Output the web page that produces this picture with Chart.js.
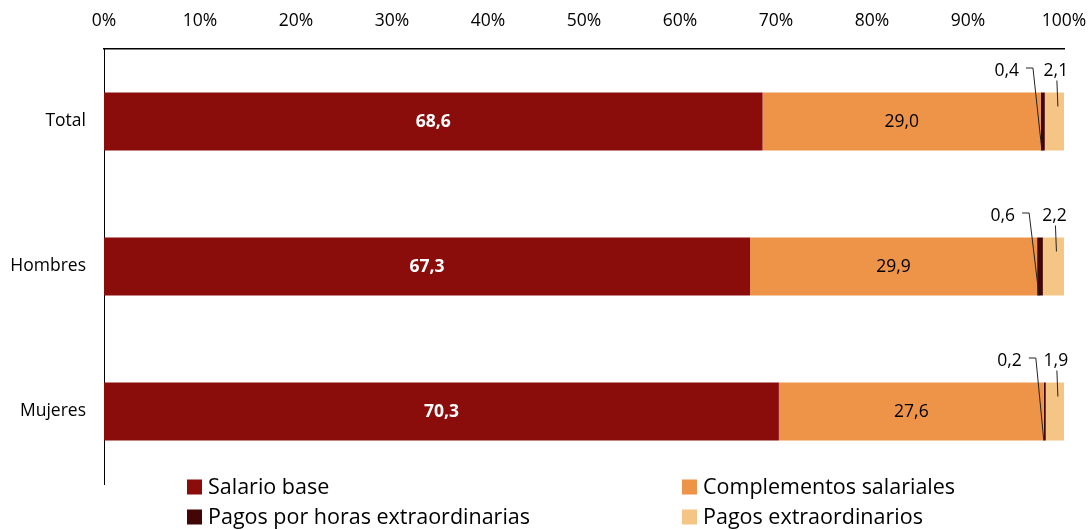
<!DOCTYPE html>
<html>
<head>
<meta charset="utf-8">
<script src="https://cdn.jsdelivr.net/npm/chart.js@4/dist/chart.umd.min.js"></script>
<style>
  html, body { margin: 0; padding: 0; background: #ffffff; }
  #wrap { width: 1088px; height: 530px; position: relative; }
</style>
</head>
<body>
<div id="wrap"><canvas id="c" width="1088" height="530"></canvas></div>
<script>
const categories = ['Total', 'Hombres', 'Mujeres'];
const seriesNames = ['Salario base', 'Complementos salariales', 'Pagos por horas extraordinarias', 'Pagos extraordinarios'];
const salarioBase = [68.6, 67.3, 70.3];
const complementos = [29.0, 29.9, 27.6];
const horasExtra = [0.4, 0.6, 0.2];
const pagosExtra = [2.1, 2.2, 1.9];
const xTicks = [0, 10, 20, 30, 40, 50, 60, 70, 80, 90, 100];

const colors = ['#8B0D0B', '#EE9449', '#430606', '#F5C585'];
const FONT = '"Open Sans", "DejaVu Sans", sans-serif';

function fmt(v) { return v.toFixed(1).replace('.', ','); }

const labelPlugin = {
  id: 'labels',
  afterDatasetsDraw(chart) {
    const ctx = chart.ctx;
    ctx.save();
    ctx.textBaseline = 'middle';
    chart.data.datasets.forEach((ds, di) => {
      const meta = chart.getDatasetMeta(di);
      meta.data.forEach((bar, i) => {
        const p = bar.getProps(['x', 'y', 'base', 'height'], true);
        const x0 = Math.min(p.x, p.base), x1 = Math.max(p.x, p.base);
        const yTop = p.y - p.height / 2, yBot = p.y + p.height / 2;
        const xc = (x0 + x1) / 2;
        const txt = fmt(ds.data[i]);
        if (di === 0) {
          ctx.font = 'bold 17.5px ' + FONT;
          ctx.fillStyle = '#ffffff';
          ctx.textAlign = 'center';
          ctx.fillText(txt, xc, p.y + 1);
        } else if (di === 1) {
          ctx.font = '17.5px ' + FONT;
          ctx.fillStyle = '#000000';
          ctx.textAlign = 'center';
          ctx.fillText(txt, xc, p.y + 1);
        } else if (di === 2) {
          ctx.font = '17.5px ' + FONT;
          ctx.fillStyle = '#000000';
          ctx.textAlign = 'right';
          ctx.fillText(txt, x0 - 22, yTop - 21);
          ctx.strokeStyle = '#222222';
          ctx.lineWidth = 1;
          ctx.beginPath();
          ctx.moveTo(x0 - 15, yTop - 24.5);
          ctx.lineTo(x0 - 8, yTop - 24.5);
          ctx.lineTo(xc - 1, yBot);
          ctx.stroke();
        } else {
          ctx.font = '17.5px ' + FONT;
          ctx.fillStyle = '#000000';
          ctx.textAlign = 'center';
          ctx.fillText(txt, xc + 1, yTop - 21);
          ctx.strokeStyle = '#222222';
          ctx.lineWidth = 1;
          ctx.beginPath();
          ctx.moveTo(xc + 2, yTop - 12);
          ctx.lineTo(xc + 3, yTop + 14);
          ctx.stroke();
        }
      });
    });
    ctx.restore();
  }
};

const legendPlugin = {
  id: 'customLegend',
  afterDraw(chart) {
    const ctx = chart.ctx;
    ctx.save();
    ctx.font = '21.5px ' + FONT;
    ctx.textBaseline = 'middle';
    ctx.textAlign = 'left';
    const cols = [187, 682];
    const rows = [487, 517];
    seriesNames.forEach((name, i) => {
      const bx = cols[i % 2], by = rows[Math.floor(i / 2)];
      ctx.fillStyle = colors[i];
      ctx.fillRect(bx, by - 7.5, 15, 15);
      ctx.fillStyle = '#000000';
      ctx.fillText(name, bx + 21, by + 1);
    });
    ctx.restore();
  }
};

new Chart(document.getElementById('c'), {
  type: 'bar',
  data: {
    labels: categories,
    datasets: [salarioBase, complementos, horasExtra, pagosExtra].map((d, i) => ({
      label: seriesNames[i],
      data: d,
      backgroundColor: colors[i],
      borderWidth: 0,
      barPercentage: 0.4,
      categoryPercentage: 1.0
    }))
  },
  options: {
    indexAxis: 'y',
    responsive: false,
    animation: false,
    devicePixelRatio: 1,
    layout: { padding: { left: 0, right: 24, top: 0, bottom: 46 } },
    plugins: { legend: { display: false }, tooltip: { enabled: false } },
    scales: {
      x: {
        position: 'top',
        stacked: true,
        min: 0, max: 100,
        afterBuildTicks(scale) { scale.ticks = xTicks.map(v => ({ value: v })); },
        afterFit(scale) { scale.height = 49; scale.paddingLeft = 0; scale.paddingRight = 0; },
        grid: { display: false, drawTicks: false },
        border: { display: true, color: '#000000', width: 1.5 },
        ticks: {
          callback: v => v + '%',
          color: '#000000',
          font: { family: FONT, size: 17.5 },
          padding: 17,
          maxRotation: 0
        }
      },
      y: {
        stacked: true,
        afterFit(scale) { scale.width = 104; scale.paddingTop = 0; scale.paddingBottom = 0; },
        grid: { display: false, drawTicks: false },
        border: { display: true, color: '#000000', width: 1 },
        ticks: {
          color: '#000000',
          font: { family: FONT, size: 17.5 },
          padding: 18
        }
      }
    }
  },
  plugins: [labelPlugin, legendPlugin]
});
</script>
</body>
</html>
